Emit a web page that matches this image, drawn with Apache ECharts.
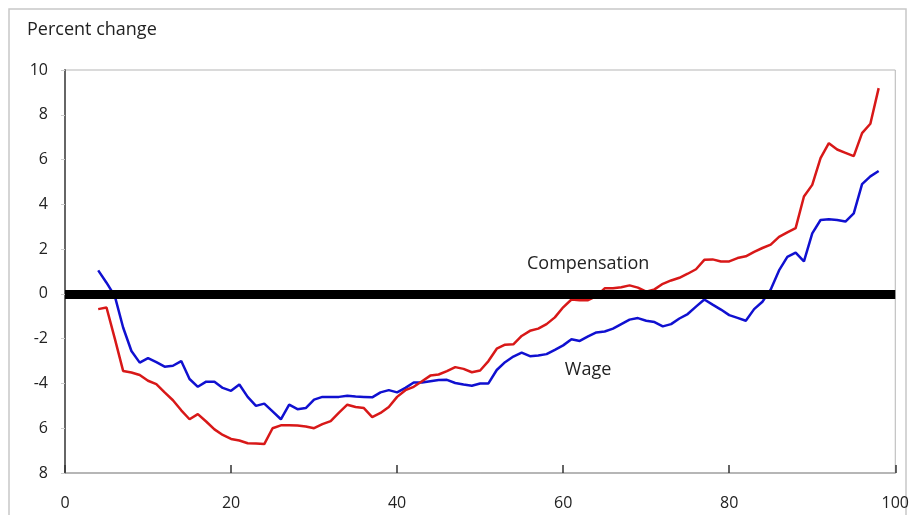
<!DOCTYPE html>
<html>
<head>
<meta charset="utf-8">
<script src="https://cdn.jsdelivr.net/npm/echarts@6/dist/echarts.min.js"></script>
<style>html,body{margin:0;padding:0;background:#fff}#c{width:912px;height:515px}</style>
</head>
<body>
<div id="c"></div>
<script>
var xValues = [];
for (var i = 4; i <= 98; i++) xValues.push(i);
var wage = [1.05,0.5,-0.1,-1.5,-2.55,-3.07,-2.87,-3.05,-3.25,-3.21,-3.0,-3.8,-4.15,-3.92,-3.92,-4.2,-4.33,-4.05,-4.6,-5.0,-4.9,-5.25,-5.6,-4.95,-5.15,-5.1,-4.72,-4.6,-4.6,-4.6,-4.55,-4.58,-4.6,-4.62,-4.4,-4.3,-4.4,-4.2,-3.96,-3.96,-3.9,-3.85,-3.84,-3.98,-4.05,-4.1,-4.0,-4.0,-3.4,-3.05,-2.8,-2.62,-2.78,-2.75,-2.69,-2.5,-2.3,-2.03,-2.1,-1.9,-1.72,-1.68,-1.55,-1.35,-1.15,-1.08,-1.2,-1.26,-1.45,-1.35,-1.1,-0.9,-0.57,-0.25,-0.48,-0.7,-0.95,-1.07,-1.2,-0.68,-0.35,0.2,1.05,1.65,1.84,1.45,2.7,3.3,3.33,3.3,3.23,3.6,4.9,5.25,5.49];
var compensation = [-0.68,-0.61,-2.0,-3.44,-3.51,-3.62,-3.88,-4.03,-4.4,-4.75,-5.2,-5.6,-5.37,-5.7,-6.05,-6.3,-6.48,-6.55,-6.67,-6.68,-6.71,-6.0,-5.87,-5.87,-5.88,-5.92,-6.0,-5.82,-5.68,-5.3,-4.95,-5.05,-5.1,-5.5,-5.32,-5.05,-4.6,-4.3,-4.15,-3.9,-3.65,-3.6,-3.45,-3.27,-3.35,-3.5,-3.42,-3.0,-2.45,-2.27,-2.25,-1.88,-1.65,-1.55,-1.35,-1.05,-0.6,-0.25,-0.28,-0.28,-0.1,0.25,0.25,0.3,0.38,0.28,0.1,0.2,0.45,0.6,0.72,0.9,1.1,1.52,1.54,1.45,1.45,1.6,1.68,1.88,2.05,2.2,2.55,2.75,2.94,4.35,4.87,6.06,6.73,6.45,6.3,6.15,7.18,7.6,9.19];
var yTickValues = [-8,-6,-4,-2,0,2,4,6,8,10];
var yTickLabels = ['8','6','-4','-2','0','2','4','6','8','10'];
var xTickLabels = ['0','20','40','60','80','100'];

function pairs(xs, ys){ return xs.map(function(x,i){ return [x, ys[i]]; }); }

var FONT = "'Liberation Sans Narrow','Open Sans',sans-serif";
var chart = echarts.init(document.getElementById('c'));
chart.setOption({
  animation: false,
  backgroundColor: '#fff',
  grid: {left:65, right:16, top:70, bottom:42, show:true, borderColor:'#b5b5b5', borderWidth:1},
  xAxis: {
    type:'value', min:0, max:100, interval:20,
    axisLine:{show:true, onZero:false, lineStyle:{color:'#aaa', width:1.5}},
    axisTick:{show:true, inside:true, length:8, lineStyle:{color:'#333', width:1.5}},
    splitLine:{show:false},
    axisLabel:{margin:22, fontSize:16, fontFamily:FONT, color:'#222',
      formatter:function(v){ return xTickLabels[v/20]; }}
  },
  yAxis: [{
    type:'value', min:-8, max:10, interval:2,
    axisLine:{show:true, onZero:false, lineStyle:{color:'#666', width:2}},
    axisTick:{show:false},
    splitLine:{show:false},
    axisLabel:{margin:17, fontSize:16, fontFamily:FONT, color:'#222',
      formatter:function(v){ return yTickLabels[yTickValues.indexOf(v)]; }}
  },{
    type:'value', min:-8, max:10, interval:2, position:'right',
    axisLine:{show:false},
    axisTick:{show:true, inside:true, length:4, lineStyle:{color:'#ccc'}},
    axisLabel:{show:false}, splitLine:{show:false}
  }],
  series: [
    {type:'line', name:'Wage', data:pairs(xValues, wage), showSymbol:false, symbol:'none',
     lineStyle:{color:'#1010d0', width:2.5}, z:3},
    {type:'line', name:'Compensation', data:pairs(xValues, compensation), showSymbol:false, symbol:'none',
     lineStyle:{color:'#d81818', width:2.5}, z:3,
     markLine:{silent:true, symbol:'none', label:{show:false},
       lineStyle:{color:'#000', width:9, type:'solid', cap:'butt'},
       data:[{yAxis:0}], z:5}}
  ]
});
chart.setOption({
  graphic: [
    {type:'rect', shape:{x:9,y:9,width:897,height:520}, style:{fill:'none', stroke:'#c8c8c8', lineWidth:1.5}, silent:true},
    {type:'text', left:27, top:21, style:{text:'Percent change', font:'18px ' + FONT, fill:'#222'}},
    {type:'text', x:527, y:chart.convertToPixel({yAxisIndex:0}, 1.33), style:{text:'Compensation', font:'18px ' + FONT, fill:'#222', textVerticalAlign:'middle'}},
    {type:'text', x:chart.convertToPixel({xAxisIndex:0}, 60.2), y:chart.convertToPixel({yAxisIndex:0}, -3.4), style:{text:'Wage', font:'18px ' + FONT, fill:'#222', textVerticalAlign:'middle'}}
  ]
});
</script>
</body>
</html>
